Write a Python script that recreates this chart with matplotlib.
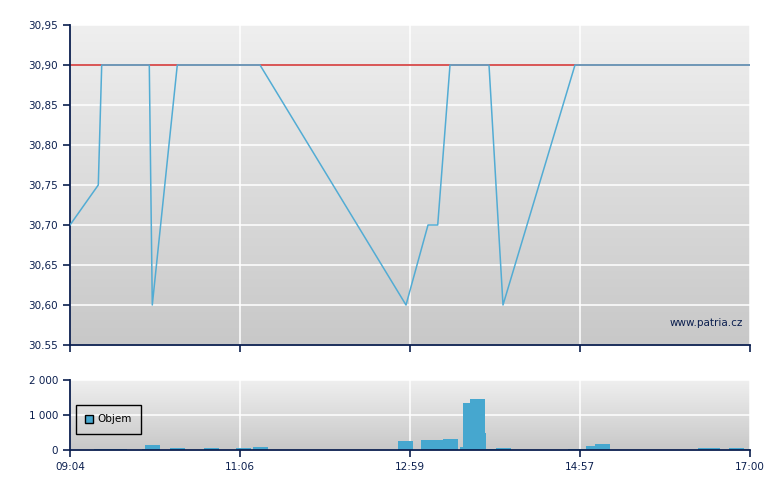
import numpy as np
import matplotlib
matplotlib.use("Agg")
import matplotlib.pyplot as plt
from matplotlib.patches import Patch
from matplotlib.colors import LinearSegmentedColormap

# ---- data (x in minutes-equivalent from 09:04 on the chart's axis, 0..476) ----
price_t = [0, 19.8, 22.2, 55.5, 57.6, 75.1, 133, 235.2, 250.6, 257.4, 266, 293.3, 303.1, 353.5, 476]
price_v = [30.70, 30.75, 30.90, 30.90, 30.60, 30.90, 30.90, 30.60, 30.70, 30.70, 30.90, 30.90, 30.60, 30.90, 30.90]
ref_price = 30.90

vol_t = [16.8, 27.3, 29.4, 50.4, 52.5, 70.0, 93.8, 116.2, 128.1, 229.6, 245.7, 250.6, 261.1,
         273.0, 275.1, 280.0, 280.7, 287.7, 298.2, 348.6, 350.7, 361.2, 367.5, 439.6, 444.5, 461.3, 465.5]
vol_v = [30, 30, 30, 20, 143, 57, 57, 57, 86, 257, 286, 286, 314,
         86, 1343, 1457, 486, 29, 57, 29, 29, 114, 171, 57, 57, 57, 29]
vol_w = 10.5

tick_pos = [0, 119, 238, 357, 476]
tick_lab = ["09:04", "11:06", "12:59", "14:57", "17:00"]
price_ticks = [30.55, 30.60, 30.65, 30.70, 30.75, 30.80, 30.85, 30.90, 30.95]
price_labels = ["30.55", "30,60", "30,65", "30,70", "30,75", "30,80", "30,85", "30,90", "30,95"]
vol_ticks = [0, 1000, 2000]
vol_labels = ["0", "1 000", "2 000"]

navy = "#0b1f4f"
blue_line = "#52acd4"
blue_bar = "#46a7cf"

fig = plt.figure(figsize=(7.8, 4.9), dpi=100)
W, H = 780, 490
ax1 = fig.add_axes([70 / W, 1 - 345 / H, 680 / W, 320 / H])
ax2 = fig.add_axes([70 / W, 1 - 450 / H, 680 / W, 70 / H])

grad = np.linspace(0, 1, 256).reshape(-1, 1)
cmap = LinearSegmentedColormap.from_list("g", ["#efefef", "#c8c8c8"])

for ax in (ax1, ax2):
    ax.set_facecolor("none")
    ax.imshow(grad, extent=[0, 1, 0, 1], transform=ax.transAxes, aspect="auto",
              cmap=cmap, zorder=0, origin="upper")
    ax.set_axisbelow(True)
    ax.grid(True, color="white", linewidth=1.1, zorder=0.5)
    for s in ("top", "right"):
        ax.spines[s].set_visible(False)
    for s in ("left", "bottom"):
        ax.spines[s].set_color(navy)
        ax.spines[s].set_linewidth(1.3)
    ax.tick_params(colors=navy, labelcolor=navy, labelsize=7.5, length=5, width=1.2, direction="out")
    ax.set_xlim(0, 476)
    ax.set_xticks(tick_pos)

# price panel
ax1.plot([0, 476], [ref_price, ref_price], color="#d02828", linewidth=1.1, zorder=2)
ax1.plot(price_t, price_v, color=blue_line, linewidth=1.1, zorder=3)
ax1.set_ylim(30.55, 30.95)
ax1.set_yticks(price_ticks)
ax1.set_yticklabels(price_labels)
ax1.set_xticklabels([])
ax1.text(0.99, 0.07, "www.patria.cz", transform=ax1.transAxes, ha="right", va="center",
         color=navy, fontsize=7.5, zorder=4)

# volume panel
ax2.bar(vol_t, vol_v, width=vol_w, align="edge", color=blue_bar, linewidth=0, zorder=2)
ax2.set_ylim(0, 2000)
ax2.set_yticks(vol_ticks)
ax2.set_yticklabels(vol_labels)
ax2.set_xticklabels(tick_lab)
leg = ax2.legend(handles=[Patch(facecolor=blue_bar, edgecolor="black", label="Objem")],
                 loc="upper left", bbox_to_anchor=(0.0084, 0.643), borderaxespad=0,
                 fancybox=False, framealpha=1, facecolor="#e0e0e0", edgecolor="black",
                 fontsize=7.5, handlelength=0.8, handleheight=0.8, handletextpad=0.4,
                 borderpad=0.9)
leg.get_frame().set_linewidth(1.0)
leg.get_frame().set_alpha(None)
leg.get_frame().set_facecolor((0, 0, 0, 0))

fig.savefig("out.png", dpi=100)
